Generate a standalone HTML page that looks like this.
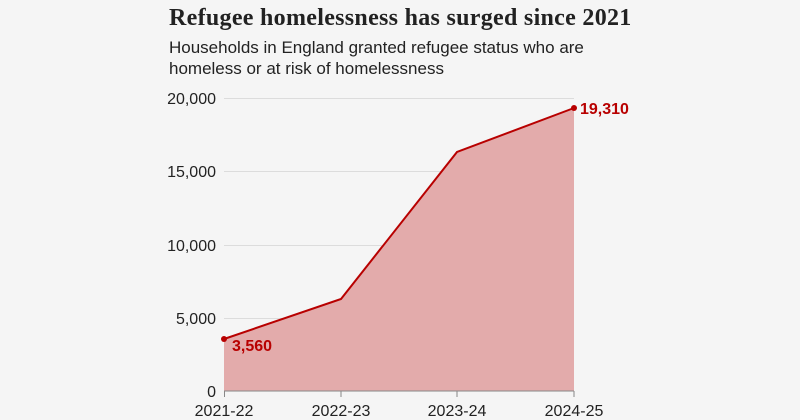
<!DOCTYPE html>
<html><head><meta charset="utf-8"><style>
html,body{margin:0;padding:0;background:#f5f5f5;}
body{width:800px;height:420px;overflow:hidden;position:relative;font-family:"Liberation Sans",sans-serif;}
.t{position:absolute;left:169px;top:5px;font-family:"Liberation Serif",serif;font-weight:bold;font-size:24px;letter-spacing:0.3px;color:#222;white-space:nowrap;}
.s{position:absolute;left:169px;top:37px;font-size:17px;line-height:21px;color:#222;}
</style></head><body>
<div class="t">Refugee homelessness has surged since 2021</div>
<div class="s">Households in England granted refugee status who are<br>homeless or at risk of homelessness</div>
<svg width="800" height="420" style="position:absolute;left:0;top:0">
<g stroke="#dcdcdc" stroke-width="1">
<line x1="224" x2="574" y1="98.5" y2="98.5"/><line x1="224" x2="574" y1="171.5" y2="171.5"/>
<line x1="224" x2="574" y1="245.5" y2="245.5"/><line x1="224" x2="574" y1="318.5" y2="318.5"/>
</g>
<g font-size="16" fill="#222" text-anchor="end" font-family="Liberation Sans">
<text x="216" y="104">20,000</text><text x="216" y="177">15,000</text>
<text x="216" y="251">10,000</text><text x="216" y="324">5,000</text><text x="216" y="397">0</text>
</g>
<polygon points="224,339 341,299 457,152 574,108 574,391 224,391" fill="#e3abab"/>
<polyline points="224,339 341,299 457,152 574,108" fill="none" stroke="#b80000" stroke-width="2"/>
<circle cx="224" cy="339" r="3" fill="#b80000"/><circle cx="574" cy="108" r="3" fill="#b80000"/>
<line x1="224" x2="574" y1="391" y2="391" stroke="#888"/>
<g stroke="#888"><line x1="224.5" x2="224.5" y1="391" y2="397"/><line x1="341" x2="341" y1="391" y2="397"/><line x1="457" x2="457" y1="391" y2="397"/><line x1="574" x2="574" y1="391" y2="397"/></g>
<g font-size="16" fill="#222" text-anchor="middle">
<text x="224" y="416">2021-22</text><text x="341" y="416">2022-23</text><text x="457" y="416">2023-24</text><text x="574" y="416">2024-25</text>
</g>
<text x="232" y="351" font-size="16" font-weight="bold" fill="#b80000">3,560</text>
<text x="580" y="114" font-size="16" font-weight="bold" fill="#b80000">19,310</text>
</svg>
</body></html>
